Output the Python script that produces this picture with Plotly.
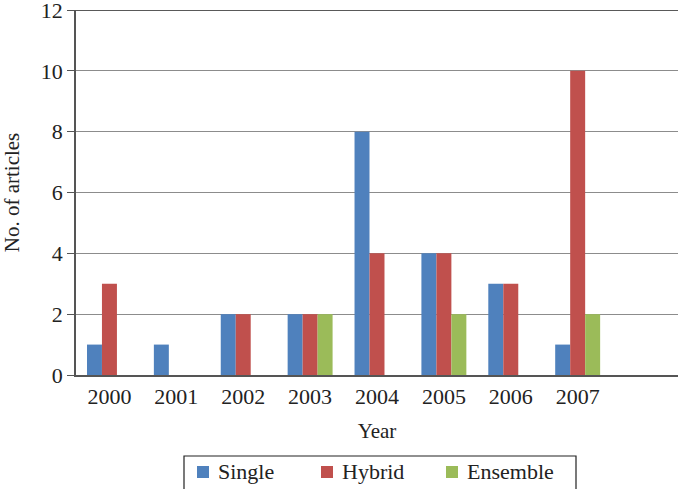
import plotly.graph_objects as go

years = ["2000", "2001", "2002", "2003", "2004", "2005", "2006", "2007"]
single = [1, 1, 2, 2, 8, 4, 3, 1]
hybrid = [3, 0, 2, 2, 4, 4, 3, 10]
ensemble = [0, 0, 0, 2, 0, 2, 0, 2]
series_names = ["Single", "Hybrid", "Ensemble"]
colors = ["#4F81BD", "#C0504D", "#9BBB59"]
y_ticks = [0, 2, 4, 6, 8, 10, 12]

xpos = list(range(len(years)))
font = "Liberation Serif, Times New Roman, serif"

W, H = 680, 489
ML, MR, MT, MB = 76, 2, 10, 114
PW, PH = W - ML - MR, H - MT - MB


def px_x(p):
    return (p - ML) / PW


def px_y(p):
    return (H - MB - p) / PH


fig = go.Figure()
for name, vals, col in zip(series_names, [single, hybrid, ensemble], colors):
    fig.add_trace(go.Bar(x=xpos, y=vals, name=name, marker=dict(color=col, line=dict(width=0))))

fig.update_layout(
    width=W, height=H,
    margin=dict(l=ML, r=MR, t=MT, b=MB, autoexpand=False),
    paper_bgcolor="white", plot_bgcolor="white",
    barmode="group", bargap=0.328, bargroupgap=0,
    font=dict(family=font, size=22, color="#222"),
    showlegend=False,
    xaxis=dict(range=[-0.5, 8.5], tickvals=xpos, ticktext=years, showgrid=False,
               showline=True, linecolor="#555", linewidth=1.5, ticks="", zeroline=False,
               ticklabelstandoff=1, tickfont=dict(size=22),
               title=dict(text="Year", standoff=15, font=dict(size=21)), fixedrange=True),
    yaxis=dict(range=[0, 12], tickvals=y_ticks, showgrid=True, gridcolor="#8c8c8c", gridwidth=1,
               showline=True, linecolor="#555", linewidth=1.5, ticks="outside", ticklen=7,
               tickcolor="#555", zeroline=False, ticklabeloverflow="allow",
               tickfont=dict(size=22),
               title=dict(text="No. of articles", standoff=19, font=dict(size=21)),
               fixedrange=True),
)
fig.add_shape(type="line", xref="paper", yref="y", x0=0, x1=1, y0=12, y1=12,
              line=dict(color="#222", width=1.5))

# legend box (drawn manually to match the reference layout)
fig.add_shape(type="rect", xref="paper", yref="paper",
              x0=px_x(184), x1=px_x(576), y0=px_y(456), y1=px_y(500),
              line=dict(color="#222", width=1.2), fillcolor="white")
marker_left = [197, 321, 446]
for name, col, mx in zip(series_names, colors, marker_left):
    fig.add_shape(type="rect", xref="paper", yref="paper",
                  x0=px_x(mx), x1=px_x(mx + 12), y0=px_y(466), y1=px_y(478),
                  line=dict(width=0), fillcolor=col)
    fig.add_annotation(xref="paper", yref="paper", x=px_x(mx + 19), y=px_y(472),
                       xanchor="left", yanchor="middle", text=name, showarrow=False,
                       font=dict(size=22, family=font, color="#222"))
fig.write_html("out.html")
